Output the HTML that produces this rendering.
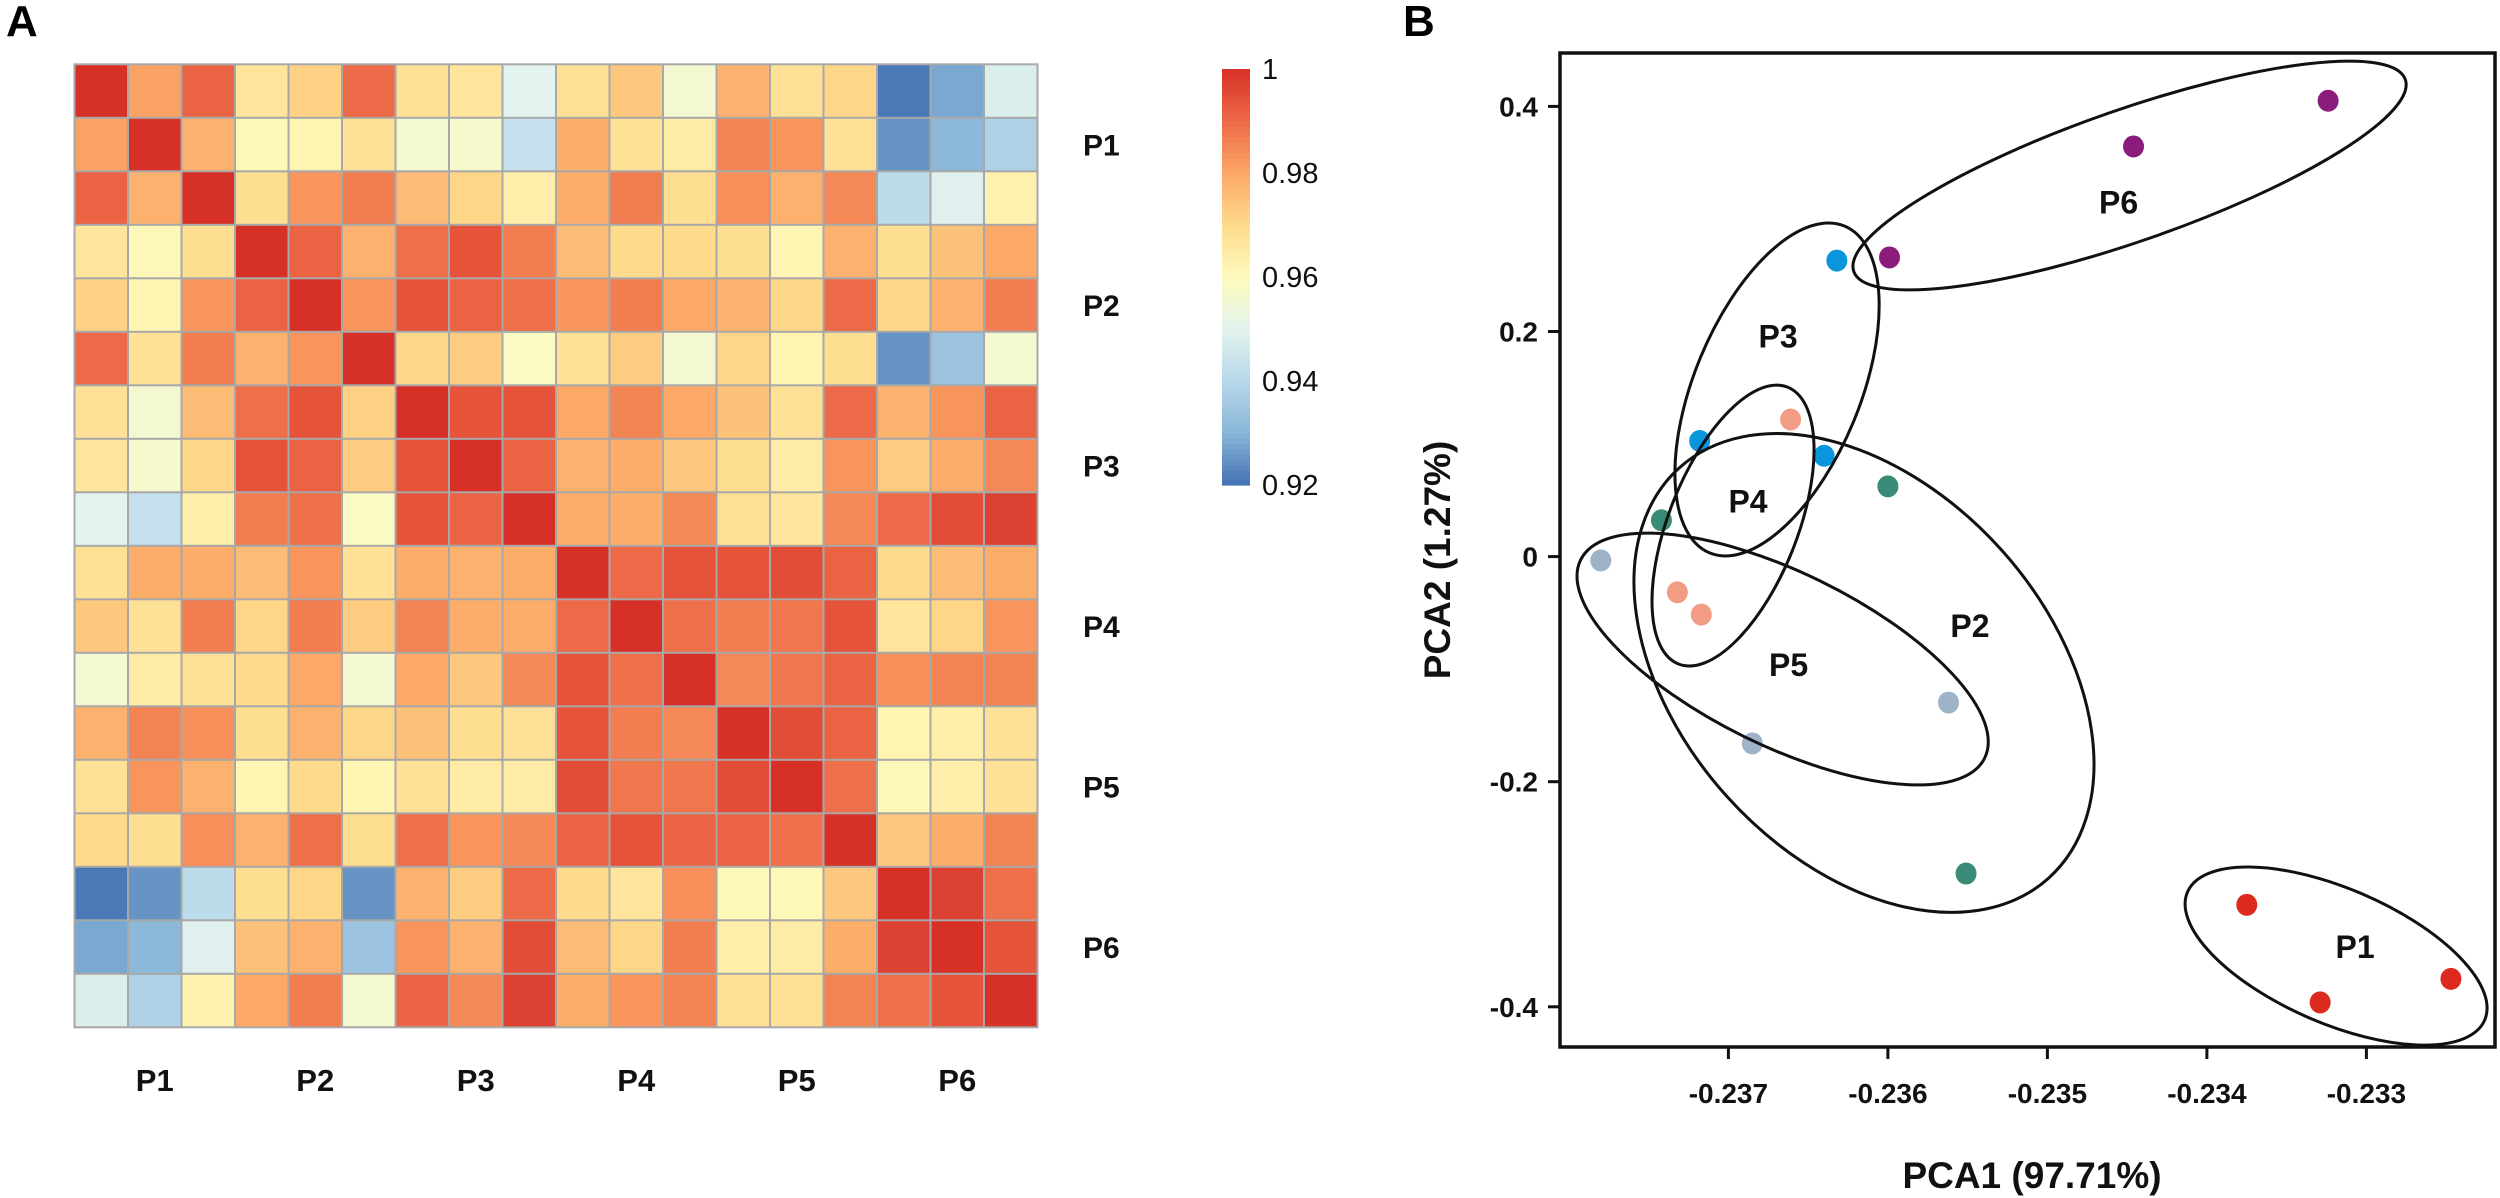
<!DOCTYPE html>
<html><head><meta charset="utf-8"><style>
html,body{margin:0;padding:0;background:#fff;}
svg{display:block;font-family:"Liberation Sans",Arial,sans-serif;}
</style></head><body>
<svg id="fig" width="2500" height="1198" viewBox="0 0 2500 1198" xmlns="http://www.w3.org/2000/svg">
<text x="6" y="36" font-size="44" font-weight="bold">A</text>
<text x="1403" y="36" font-size="44" font-weight="bold">B</text>
<g id="heat"></g>
<g id="cbar"></g>
<g id="pca"></g>
</svg>
<script>
// ---------- Heatmap data ----------
const groupLabels = ["P1","P2","P3","P4","P5","P6"];
const corrRows = [
[1.000,0.981,0.991,0.967,0.972,0.990,0.968,0.967,0.950,0.968,0.974,0.956,0.978,0.968,0.971,0.921,0.928,0.948],
[0.981,1.000,0.978,0.961,0.962,0.968,0.956,0.957,0.943,0.979,0.968,0.965,0.986,0.983,0.968,0.925,0.931,0.938],
[0.991,0.978,1.000,0.969,0.983,0.987,0.976,0.971,0.964,0.979,0.987,0.969,0.984,0.978,0.985,0.941,0.949,0.963],
[0.967,0.961,0.969,1.000,0.991,0.978,0.989,0.994,0.987,0.976,0.970,0.970,0.969,0.962,0.978,0.969,0.975,0.980],
[0.972,0.962,0.983,0.991,1.000,0.983,0.994,0.991,0.989,0.983,0.987,0.980,0.978,0.971,0.990,0.971,0.978,0.987],
[0.990,0.968,0.987,0.978,0.983,1.000,0.971,0.973,0.959,0.968,0.973,0.956,0.971,0.962,0.969,0.925,0.934,0.956],
[0.968,0.956,0.976,0.989,0.994,0.972,1.000,0.994,0.994,0.980,0.986,0.980,0.975,0.968,0.990,0.978,0.983,0.991],
[0.967,0.957,0.971,0.994,0.991,0.973,0.994,1.000,0.991,0.978,0.979,0.974,0.969,0.965,0.983,0.973,0.979,0.985],
[0.950,0.943,0.964,0.987,0.989,0.959,0.994,0.991,1.000,0.979,0.979,0.985,0.968,0.967,0.985,0.990,0.995,0.997],
[0.968,0.979,0.979,0.976,0.983,0.968,0.979,0.978,0.979,1.000,0.990,0.994,0.994,0.995,0.991,0.970,0.976,0.979],
[0.974,0.968,0.987,0.971,0.987,0.973,0.986,0.979,0.979,0.990,1.000,0.989,0.987,0.988,0.994,0.967,0.971,0.983],
[0.956,0.965,0.968,0.970,0.980,0.956,0.980,0.974,0.985,0.994,0.989,1.000,0.985,0.988,0.991,0.984,0.986,0.986],
[0.978,0.986,0.984,0.969,0.978,0.971,0.975,0.969,0.968,0.994,0.987,0.985,1.000,0.995,0.991,0.962,0.964,0.968],
[0.968,0.983,0.978,0.962,0.970,0.962,0.968,0.965,0.965,0.995,0.988,0.988,0.995,1.000,0.989,0.961,0.964,0.968],
[0.970,0.969,0.984,0.978,0.989,0.969,0.989,0.983,0.985,0.991,0.994,0.991,0.991,0.989,1.000,0.974,0.979,0.986],
[0.921,0.925,0.941,0.969,0.971,0.925,0.978,0.973,0.990,0.970,0.967,0.984,0.961,0.961,0.974,1.000,0.997,0.989],
[0.928,0.931,0.949,0.975,0.978,0.934,0.983,0.978,0.995,0.976,0.971,0.987,0.964,0.965,0.979,0.997,1.000,0.994],
[0.948,0.938,0.963,0.980,0.987,0.956,0.991,0.985,0.997,0.979,0.983,0.986,0.968,0.968,0.986,0.989,0.994,1.000]
];
const scaleTicks = [1, 0.98, 0.96, 0.94, 0.92];
const scaleTickLabels = ["1","0.98","0.96","0.94","0.92"];

// ---------- PCA data ----------
const pcaGroups = ["P1","P2","P3","P4","P5","P6"];
const pcaX = [
 [-0.23375,-0.23329,-0.23247],
 [-0.23600,-0.23742,-0.23551],
 [-0.23632,-0.23718,-0.23640],
 [-0.23661,-0.23732,-0.23717],
 [-0.23780,-0.23562,-0.23685],
 [-0.23324,-0.23446,-0.23599]
];
const pcaY = [
 [-0.3094,-0.3961,-0.3752],
 [0.0624,0.0323,-0.2816],
 [0.263,0.1027,0.0896],
 [0.1218,-0.0317,-0.0515],
 [-0.0034,-0.1297,-0.166],
 [0.405,0.3644,0.2658]
];
const ellipseCX = [-0.23319,-0.23615,-0.236695,-0.236971,-0.23666,-0.234485];
const ellipseCY = [-0.3549,-0.1034,0.1485,0.0276,-0.091,0.3386];
const xTicks = [-0.237,-0.236,-0.235,-0.234,-0.233];
const xTickLabels = ["-0.237","-0.236","-0.235","-0.234","-0.233"];
const yTicks = [0.4,0.2,0,-0.2,-0.4];
const yTickLabels = ["0.4","0.2","0","-0.2","-0.4"];

const NS = "http://www.w3.org/2000/svg";
function mk(tag, attrs, parent){ const e=document.createElementNS(NS,tag); for(const k in attrs) e.setAttribute(k,attrs[k]); parent.appendChild(e); return e; }

// color scale
const cStops = [[0.92,[67,114,179]],[0.93,[135,181,215]],[0.94,[184,216,234]],[0.95,[227,243,239]],[0.96,[254,251,189]],[0.97,[254,219,140]],[0.98,[252,168,102]],[0.99,[236,106,71]],[1.0,[215,48,39]]];
function colorOf(v){
  if(v<=cStops[0][0]) return "rgb("+cStops[0][1].join(",")+")";
  for(let i=1;i<cStops.length;i++){
    if(v<=cStops[i][0]){ const a=cStops[i-1], b=cStops[i]; const t=(v-a[0])/(b[0]-a[0]);
      const c=a[1].map((x,j)=>Math.round(x+(b[1][j]-x)*t)); return "rgb("+c.join(",")+")"; }
  }
  return "rgb("+cStops[cStops.length-1][1].join(",")+")";
}

// heatmap
const heat = document.getElementById("heat");
const HX0=74.5, HY0=64.3, CELL=53.5;
const N = corrRows.length;
mk("rect",{x:HX0-1,y:HY0-1,width:CELL*N+2,height:CELL*N+2,fill:"#a8a8a8"},heat);
corrRows.forEach((row,i)=>{
  row.forEach((v,j)=>{
    const r = mk("rect",{x:HX0+j*CELL+1,y:HY0+i*CELL+1,width:CELL-2,height:CELL-2,fill:colorOf(v)},heat);
    
    
  });
});
groupLabels.forEach((g,k)=>{
  const cy = HY0 + (k*3+1.5)*CELL;
  const t = mk("text",{x:1083,y:cy+11,"font-size":30,"font-weight":"bold",fill:"#111"},heat);
  t.textContent=g;
  
  
  const cx = HX0 + (k*3+1.5)*CELL;
  const t2 = mk("text",{x:cx,y:1091,"font-size":31,"font-weight":"bold","text-anchor":"middle",fill:"#111"},heat);
  t2.textContent=g;
  
  
});

// color bar
const cbar = document.getElementById("cbar");
const CB_TOP=69, CB_BOT=485, CB_X=1222, CB_W=28;
function cbY(v){ return CB_BOT - (v-0.92)/0.08*(CB_BOT-CB_TOP); }
for(let k=0;k<80;k++){
  const v0 = 0.92 + k*0.001, v1=v0+0.001;
  const r = mk("rect",{x:CB_X,y:cbY(v1),width:CB_W,height:cbY(v0)-cbY(v1)+0.6,fill:colorOf(v0+0.0005)},cbar);
  
  
}
scaleTicks.forEach((v,i)=>{
  const t = mk("text",{x:1262,y:cbY(v)+10,"font-size":29,fill:"#111"},cbar);
  t.textContent = scaleTickLabels[i];
  
  
});

// PCA
const pca = document.getElementById("pca");
const PL=1560, PR=2495, PT=53, PB=1047;
function xs(v){ return 1728.4 + (v+0.237)*159500; }
function ys(v){ return 556.6 - v*1125.5; }
const groupColors = ["#dc2a1f","#3a8a78","#0a95dc","#f29c86","#9fb3c8","#8b1c7b"];
const ellipseShape = [[161.8,67.4,23.3],[276,184.5,48],[176.8,83,-67.6],[148.8,64.4,-68.5],[225,86.6,26.1],[292,65.8,-19.2]];
const labelOffset = [[19,-10],[106,-48],[1,-54],[15,-25],[6,5],[-11,26]];

pcaGroups.forEach((g,k)=>{
  pcaX[k].forEach((xv,i)=>{
    const c = mk("ellipse",{cx:xs(xv),cy:ys(pcaY[k][i]),rx:10.5,ry:11,fill:groupColors[k]},pca);
    
    
  });
});
pcaGroups.forEach((g,k)=>{
  const cx=xs(ellipseCX[k]), cy=ys(ellipseCY[k]);
  const s=ellipseShape[k];
  const e = mk("ellipse",{cx:cx,cy:cy,rx:s[0],ry:s[1],transform:"rotate("+s[2]+" "+cx+" "+cy+")",fill:"none",stroke:"#111","stroke-width":3},pca);
  
  
  const t = mk("text",{x:cx+labelOffset[k][0],y:cy+labelOffset[k][1]+12,"font-size":32,"font-weight":"bold","text-anchor":"middle",fill:"#111"},pca);
  t.textContent=g;
  
  
});
const frame = mk("rect",{x:PL,y:PT,width:PR-PL,height:PB-PT,fill:"none",stroke:"#111","stroke-width":3.5},pca);


xTicks.forEach((v,i)=>{
  const x=xs(v);
  const l = mk("line",{x1:x,y1:PB,x2:x,y2:PB+12,stroke:"#111","stroke-width":3},pca);
  
  
  const t = mk("text",{x:x,y:1103,"font-size":28,"font-weight":"bold","text-anchor":"middle",fill:"#111"},pca);
  t.textContent=xTickLabels[i];
  
  
});
yTicks.forEach((v,i)=>{
  const y=ys(v);
  const l = mk("line",{x1:PL-12,y1:y,x2:PL,y2:y,stroke:"#111","stroke-width":3},pca);
  
  
  const t = mk("text",{x:1538,y:y+10,"font-size":28,"font-weight":"bold","text-anchor":"end",fill:"#111"},pca);
  t.textContent=yTickLabels[i];
  
  
});
const xt = mk("text",{x:2032,y:1188,"font-size":37,"font-weight":"bold","text-anchor":"middle",fill:"#111"},pca);
xt.textContent="PCA1 (97.71%)";


const yt = mk("text",{x:0,y:0,"font-size":37,"font-weight":"bold","text-anchor":"middle",fill:"#111",transform:"translate(1450 560) rotate(-90)"},pca);
yt.textContent="PCA2 (1.27%)";


</script>
</body></html>
